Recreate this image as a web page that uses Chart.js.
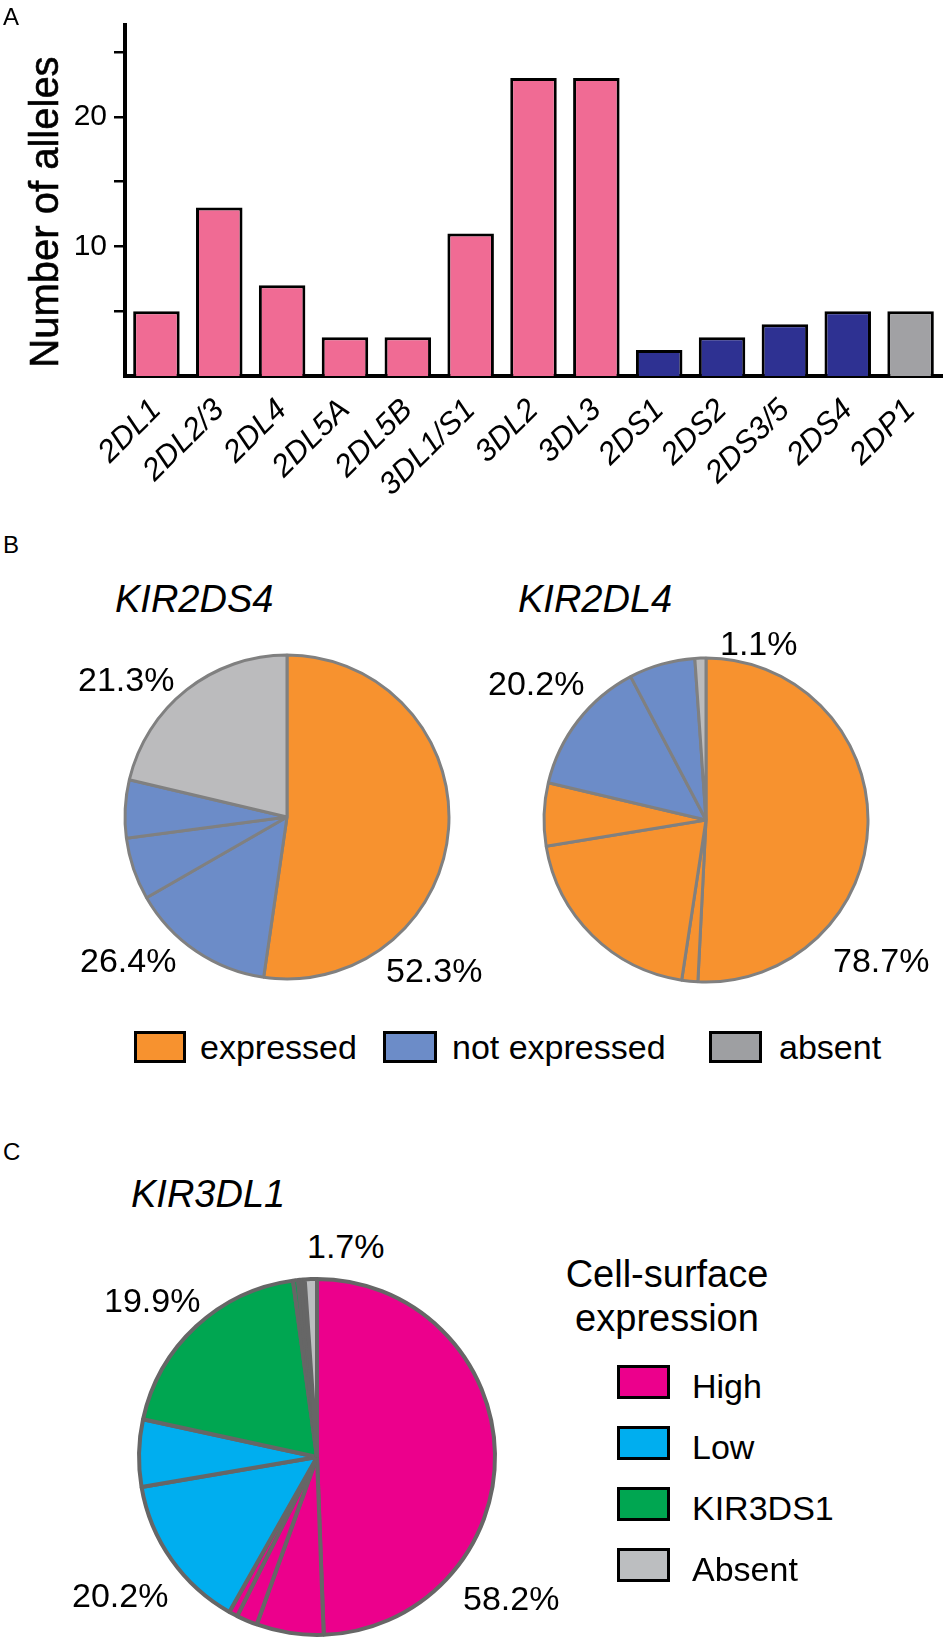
<!DOCTYPE html>
<html>
<head>
<meta charset="utf-8">
<script src="https://cdn.jsdelivr.net/npm/chart.js@4.4.1/dist/chart.umd.min.js"></script>
<style>
  html, body { margin: 0; padding: 0; background: #fff; }
  #page { position: relative; width: 945px; height: 1640px; background: #fff; overflow: hidden;
          font-family: "Liberation Sans", Arial, sans-serif; color: #000; }
  canvas { position: absolute; }
  .txt { position: absolute; white-space: nowrap; line-height: 1; }
  .box { position: absolute; box-sizing: border-box; border: 3px solid #000; }
</style>
</head>
<body>
<div id="page">
  <canvas id="barA" width="945" height="505" style="left:0;top:0;width:945px;height:505px"></canvas>
  <canvas id="pieB1"></canvas>
  <canvas id="pieB2"></canvas>
  <canvas id="pieC"></canvas>
</div>
<script>
// ---------------- DATA ----------------
const geneLabels   = ['2DL1','2DL2/3','2DL4','2DL5A','2DL5B','3DL1/S1','3DL2','3DL3','2DS1','2DS2','2DS3/5','2DS4','2DP1'];
const alleleCounts = [5, 13, 7, 3, 3, 11, 23, 23, 2, 3, 4, 5, 5];
const geneGroups   = ['inhibitory','inhibitory','inhibitory','inhibitory','inhibitory','inhibitory','inhibitory','inhibitory',
                      'activating','activating','activating','activating','pseudogene'];
const yTickValues  = [5, 10, 15, 20, 25];
const yTickLabels  = ['', '10', '', '20', ''];

const kir2ds4Values = [52.3, 14.4, 6.2, 5.8, 21.3];
const kir2ds4Groups = ['expressed','not expressed','not expressed','not expressed','absent'];
const kir2ds4Labels = ['21.3%', '26.4%', '52.3%'];

const kir2dl4Values = [50.8, 1.6, 20.0, 6.3, 13.6, 6.6, 1.1];
const kir2dl4Groups = ['expressed','expressed','expressed','expressed','not expressed','not expressed','absent'];
const kir2dl4Labels = ['20.2%', '1.1%', '78.7%'];

const kir3dl1Values = [49.4, 6.1, 1.9, 0.8, 14.1, 6.1, 19.45, 0.45, 0.3, 0.3, 1.1];
const kir3dl1Groups = ['High','High','High','High','Low','Low','KIR3DS1','KIR3DS1','Absent','Absent','Absent'];
const kir3dl1Labels = ['1.7%', '19.9%', '20.2%', '58.2%'];

const legendB = ['expressed', 'not expressed', 'absent'];
const legendC = ['High', 'Low', 'KIR3DS1', 'Absent'];

// ---------------- STYLE ----------------
const FONT = '"Liberation Sans", Arial, sans-serif';
const barColors = { inhibitory: '#F06B94', activating: '#2E3192', pseudogene: '#A1A1A4' };
const pieBColors = { 'expressed': '#F7922F', 'not expressed': '#6C8CC8', 'absent': '#BBBBBD' };
const legBColors = { 'expressed': '#F7922F', 'not expressed': '#6C8CC8', 'absent': '#9E9FA2' };
const pieCColors = { 'High': '#EC008C', 'Low': '#00AEEF', 'KIR3DS1': '#00A651', 'Absent': '#BCBEC0' };

const page = document.getElementById('page');
function addText(str, left, baseline, size, opts = {}) {
  const d = document.createElement('div');
  d.className = 'txt';
  d.textContent = str;
  d.style.fontSize = size + 'px';
  d.style.top = (baseline - 0.8465 * size) + 'px';
  if (opts.italic) d.style.fontStyle = 'italic';
  d.style.left = left + 'px';
  if (opts.center) d.style.transform = 'translateX(-50%)';
  page.appendChild(d);
  return d;
}
function addBox(left, top, w, h, color) {
  const b = document.createElement('div');
  b.className = 'box';
  Object.assign(b.style, { left: left + 'px', top: top + 'px', width: w + 'px', height: h + 'px', background: color });
  page.appendChild(b);
}

Chart.defaults.font.family = FONT;
Chart.defaults.color = '#000';

// ---------------- PANEL A ----------------
addText('A', 3, 25, 24);
const yTitle = document.createElement('div');
yTitle.className = 'txt';
yTitle.textContent = 'Number of alleles';
Object.assign(yTitle.style, { fontSize: '40px', left: '44px', top: '212px', webkitTextStroke: '0.6px #000',
  transform: 'translate(-50%,-50%) rotate(-90deg)' });
page.appendChild(yTitle);

new Chart(document.getElementById('barA'), {
  type: 'bar',
  data: {
    labels: geneLabels,
    datasets: [{
      data: alleleCounts,
      backgroundColor: geneGroups.map(g => barColors[g]),
      borderColor: '#000',
      borderWidth: 3,
      categoryPercentage: 1,
      barPercentage: 0.74
    }]
  },
  options: {
    responsive: false,
    animation: false,
    events: [],
    layout: { padding: { left: 0, right: 3, top: 25, bottom: 0 } },
    plugins: { legend: { display: false }, tooltip: { enabled: false } },
    scales: {
      x: {
        z: 1,
        grid: { display: false },
        border: { display: true, color: '#000', width: 4 },
        ticks: { autoSkip: false, minRotation: 45, maxRotation: 45, padding: 8,
                 font: { family: FONT, size: 31, style: 'italic' }, color: '#000' },
        afterFit: s => { s.height = 129; }
      },
      y: {
        z: 1,
        min: 0, max: 27.1,
        grid: { drawOnChartArea: false, drawTicks: true, tickLength: 11, color: '#000', lineWidth: 2.5 },
        border: { display: true, color: '#000', width: 4 },
        afterBuildTicks: axis => { axis.ticks = yTickValues.map(v => ({ value: v })); },
        ticks: { padding: 7, font: { family: FONT, size: 30 }, color: '#000',
                 callback: v => { const i = yTickValues.indexOf(v); return i >= 0 ? yTickLabels[i] : ''; } },
        afterFit: s => { s.width = 125; }
      }
    }
  }
});

// ---------------- PIES ----------------
function makePie(id, cx, cy, r, values, groups, colors, borderColor, borderWidth) {
  const cv = document.getElementById(id);
  const size = 2 * r + 24;
  cv.width = size; cv.height = size;
  Object.assign(cv.style, { left: (cx - size / 2) + 'px', top: (cy - size / 2) + 'px', width: size + 'px', height: size + 'px' });
  new Chart(cv, {
    type: 'pie',
    data: { labels: groups, datasets: [{
      data: values,
      backgroundColor: groups.map(g => colors[g]),
      borderColor: borderColor,
      borderWidth: borderWidth,
      radius: r
    }]},
    options: {
      responsive: false, animation: false, events: [],
      layout: { padding: 0 },
      plugins: { legend: { display: false }, tooltip: { enabled: false } }
    }
  });
}

// ---------------- PANEL B ----------------
addText('B', 3, 553, 24);
addText('KIR2DS4', 115, 612, 38, { italic: true });
addText('KIR2DL4', 518, 612, 38, { italic: true });
makePie('pieB1', 287, 817, 162, kir2ds4Values, kir2ds4Groups, pieBColors, '#808080', 3);
makePie('pieB2', 706, 820, 162, kir2dl4Values, kir2dl4Groups, pieBColors, '#808080', 3);
addText(kir2ds4Labels[0], 78, 691, 34);
addText(kir2ds4Labels[1], 80, 972, 34);
addText(kir2ds4Labels[2], 386, 982, 34);
addText(kir2dl4Labels[0], 488, 695, 34);
addText(kir2dl4Labels[1], 720, 655, 34);
addText(kir2dl4Labels[2], 833, 972, 34);
const legBX = [134, 383, 709], legBW = [52, 54, 53], legBT = [200, 452, 779];
legendB.forEach((k, i) => {
  addBox(legBX[i], 1031, legBW[i], 32, legBColors[k]);
  addText(k, legBT[i], 1059, 34);
});

// ---------------- PANEL C ----------------
addText('C', 3, 1160, 24);
addText('KIR3DL1', 131, 1207, 38, { italic: true });
makePie('pieC', 317, 1457, 178, kir3dl1Values, kir3dl1Groups, pieCColors, '#666666', 4);
addText(kir3dl1Labels[0], 307, 1258, 34);
addText(kir3dl1Labels[1], 104, 1312, 34);
addText(kir3dl1Labels[2], 72, 1607, 34);
addText(kir3dl1Labels[3], 463, 1610, 34);
addText('Cell-surface', 667, 1287, 38, { center: true });
addText('expression', 667, 1331, 38, { center: true });
const legCT = [1365, 1426, 1487, 1548];
legendC.forEach((k, i) => {
  addBox(617, legCT[i], 53, 34, pieCColors[k]);
  addText(k, 692, legCT[i] + 33, 34);
});
</script>
</body>
</html>
